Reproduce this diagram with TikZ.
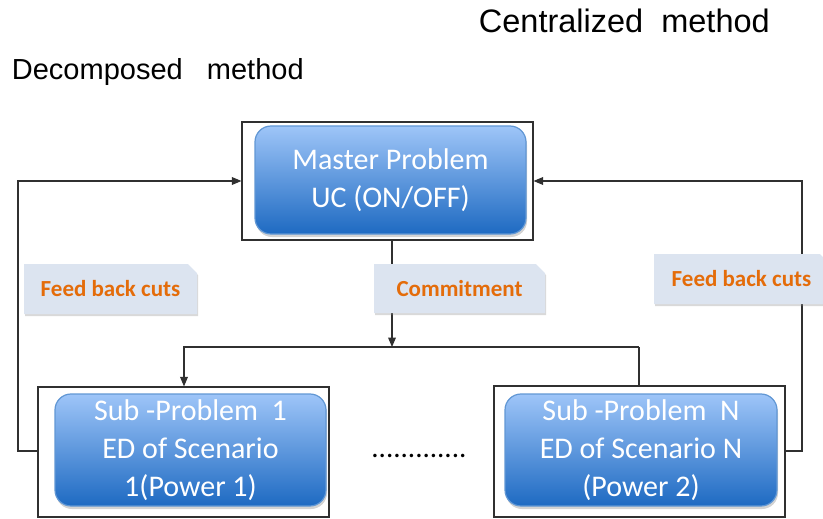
\documentclass[tikz,border=0pt]{standalone}
\usepackage{fontspec}
\setmainfont{Carlito}
\newfontfamily\titlefont{Liberation Sans}
\usepackage{tikz}
\usetikzlibrary{shapes}
\usetikzlibrary{shapes.misc}
\usetikzlibrary{arrows}
\usetikzlibrary{shadows}
\definecolor{boxtop}{HTML}{9EC5F8}
\definecolor{boxbottom}{HTML}{1E6AC2}
\definecolor{tagfill}{HTML}{DCE4F0}
\definecolor{tagtext}{HTML}{E46C0A}
\definecolor{wire}{HTML}{303030}
\tikzstyle{arrow}=[->,>=triangle 45]
\tikzstyle{frame}=[rectangle, draw=wire, line width=1.2pt]
\tikzstyle{problem}=[rectangle, rounded corners=16pt, top color=boxtop, bottom color=boxbottom,
  draw=boxbottom!70, text=white, align=center, font=\fontsize{30}{38}\selectfont,
  drop shadow={shadow xshift=1pt, shadow yshift=-3pt, opacity=0.35}]
\tikzstyle{tag}=[chamfered rectangle, chamfered rectangle corners=north east,
  chamfered rectangle xsep=6pt, fill=tagfill, text=tagtext, inner sep=0pt,
  font=\bfseries\fontsize{23}{26}\selectfont,
  drop shadow={shadow xshift=1pt, shadow yshift=-2pt, opacity=0.3}]
\tikzset{every picture/.style={
    line width=1.2pt, wire
  }
}

\begin{document}
\begin{tikzpicture}[x=1pt, y=-1pt]
      \useasboundingbox (0,0) rectangle (823,519);
      \node[anchor=west, font=\titlefont\fontsize{32.5}{36}\selectfont, text=black] at (475,21) (central) {Centralized\ \ method};
      \node[anchor=west, font=\titlefont\fontsize{29}{32}\selectfont, text=black] at (8,72) (decomp) {Decomposed\ \ \ method};
      % master problem
      \node[frame, minimum width=291pt, minimum height=118pt] at (387.5,181) (masterbox) {};
      \node[problem, minimum width=271pt, minimum height=108pt] at (390.5,180) (master) {Master Problem\\UC (ON/OFF)};
      % sub problems
      \node[frame, minimum width=291pt, minimum height=130pt] at (183.5,452) (subonebox) {};
      \node[problem, minimum width=271pt, minimum height=112pt] at (190.5,450) (subone) {Sub -Problem\ \ 1\\ED of Scenario\\1(Power 1)};
      \node[frame, minimum width=291pt, minimum height=131pt] at (639.5,451.5) (subnbox) {};
      \node[problem, minimum width=272pt, minimum height=112pt] at (641,450) (subn) {Sub -Problem\ \ N\\ED of Scenario N\\(Power 2)};
      \node[text=black, font=\fontsize{29}{29}\selectfont] at (419,456) (dots) {.............};
      % wires
      \coordinate (split) at (392,347);
      \coordinate (leftturn) at (184,347);
      \coordinate (rightturn) at (639,347);
      \draw[arrow] (392,240) -- (split);
      \draw[arrow] (rightturn) -- (leftturn) -- (subonebox.north -| leftturn);
      \draw (rightturn) -- (subnbox.north -| rightturn);
      \draw[arrow] (subonebox.west |- 0,451) -- (18,451) -- (18,181) -- (masterbox.west |- 0,181);
      \draw[arrow] (subnbox.east |- 0,451) -- (802,451) -- (802,181) -- (masterbox.east |- 0,181);
      % labels
      \node[tag, minimum width=173pt, minimum height=50pt] at (110.5,289) (cutsleft) {\raisebox{-2pt}{Feed back cuts}};
      \node[tag, minimum width=171pt, minimum height=49pt] at (459.5,288.5) (commit) {\raisebox{-2pt}{Commitment}};
      \node[tag, minimum width=175pt, minimum height=50pt] at (741.5,279) (cutsright) {\raisebox{-2pt}{Feed back cuts}};
    \end{tikzpicture}
\end{document}
